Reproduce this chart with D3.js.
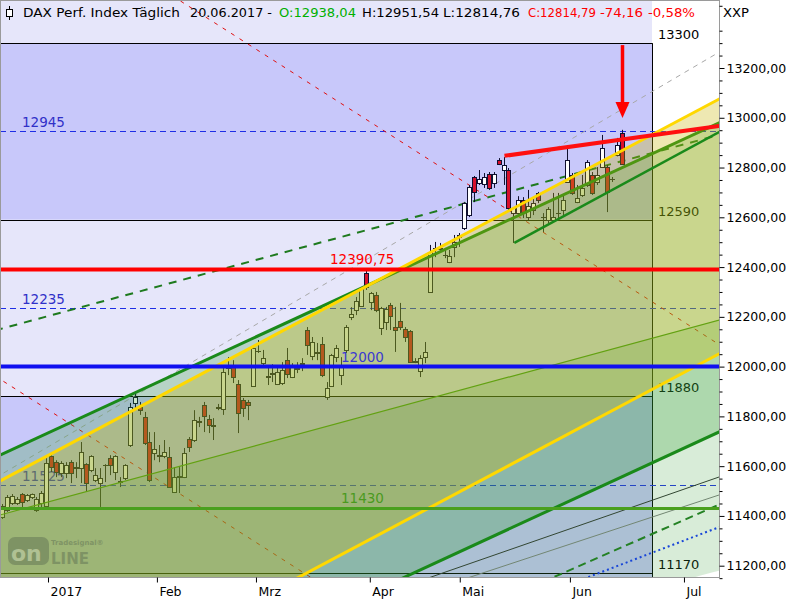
<!DOCTYPE html>
<html><head><meta charset="utf-8">
<script src="https://cdn.jsdelivr.net/npm/d3@7"></script>
<style>body{margin:0;background:#fff}svg{display:block}text{font-family:"DejaVu Sans",Verdana,sans-serif}</style>
</head><body><svg id="c" width="800" height="600"></svg>
<script>
// ---------------- DATA ----------------
const opens = [11396,11424,11452,11452,11488,11464,11476,11424,11452,11440,
11640,11616,11572,11572,11616,11596,11592,11608,11584,11544,
11532,11604,11632,11576,11536,11552,11685,11854,11838,11798,
11697,11653,11640,11640,11636,11496,11556,11556,11709,11705,
11777,11846,11790,11765,11838,11830,11994,12002,11930,11866,
11858,11922,12063,12014,11962,11970,11930,11934,12026,11958,
11994,12014,12147,12043,12059,12091,11878,11922,12038,11966,
12067,12199,12227,12244,12376,12260,12288,12155,12179,12248,
12159,12183,12151,12143,12022,11982,12038,12300,12477,12473,
12449,12420,12481,12521,12557,12609,12762,12738,12734,12774,
12738,12830,12790,12790,12617,12617,12669,12601,12629,12698,
12601,12589,12589,12617,12629,12742,12770,12661,12690,12730,
12770,12742,12802,12802,12754,12850,12938.04];
const highs = [11448,11484,11488,11476,11492,11488,11490,11476,11500,11632,
11644,11624,11620,11616,11624,11616,11697,11612,11644,11592,
11592,11608,11644,11644,11556,11608,11854,11898,11858,11818,
11737,11737,11685,11705,11677,11596,11596,11673,11717,11825,
11798,11858,11806,11793,11850,11998,12038,12026,11946,11874,
11866,12083,12107,12067,11998,12010,11998,12018,12075,12014,
12018,12034,12159,12119,12095,12119,11938,12051,12087,12038,
12167,12239,12280,12320,12390.75,12300,12300,12240,12240,12256,
12240,12256,12159,12147,12034,12046,12099,12489,12501,12497,
12477,12469,12529,12537,12661,12730,12766,12790,12778,12782,
12782,12838,12842,12798,12641,12685,12681,12710,12677,12702,
12617,12641,12698,12698,12690,12878,12778,12730,12770,12830,
12782,12802,12931,12810,12762,12919,12951.54];
const lows = [11388,11416,11444,11444,11424,11456,11468,11416,11436,11424,
11576,11556,11556,11552,11532,11552,11532,11500,11576,11536,
11436,11536,11564,11544,11516,11544,11677,11834,11806,11685,
11536,11624,11616,11632,11516,11492,11492,11552,11657,11697,
11757,11737,11733,11705,11825,11806,11966,11934,11733,11798,
11785,11918,12055,11998,11926,11938,11926,11926,11954,11954,
11974,11982,12047,12026,12026,11958,11866,11918,12018,11926,
12055,12187,12207,12240,12308,12227,12219,12127,12147,12147,
12059,12147,12099,12018,12014,11958,12014,12296,12440,12457,
12436,12416,12440,12481,12549,12601,12661,12730,12718,12710,
12718,12810,12730,12629,12497,12601,12597,12589,12609,12657,
12541,12577,12581,12597,12609,12738,12690,12657,12682,12722,
12690,12730,12798,12621,12742,12845,12814.76];
const closes = [11440,11476,11480,11468,11456,11484,11488,11468,11492,11612,
11596,11576,11612,11604,11572,11592,11656,11532,11640,11564,
11552,11604,11604,11640,11540,11604,11838,11878,11826,11693,
11544,11669,11644,11657,11516,11556,11560,11653,11677,11785,
11781,11802,11765,11761,11834,11978,12006,11958,11813,11834,
11846,12075,12063,12034,11958,11974,11978,11986,11970,11998,
11990,12010,12087,12099,12055,11966,11914,12047,12075,12006,
12159,12211,12264,12316,12320,12296,12227,12235,12231,12203,
12147,12159,12119,12018,12018,12034,12059,12460,12477,12477,
12448,12444,12501,12529,12657,12722,12702,12754,12762,12718,
12774,12814,12810,12637,12637,12669,12621,12645,12657,12669,
12601,12633,12601,12617,12669,12830,12698,12677,12718,12822,
12698,12770,12878,12702,12754,12889,12814.79];

const monthLabels = ["2017","Feb","Mrz","Apr","Mai","Jun","Jul"];
const monthPos = [9.15,31.3,51.45,74.6,92.9,115.3,138.5];
const priceTicks = [11200,11400,11600,11800,12000,12200,12400,12600,12800,13000,13200];

// horizontal levels
const blackLevels = [13300,12590,11880,11170];
const dashedLevels = [12945,12235,11525];
const redLevel = 12390.75;
const blueLevel = 12000;
const greenLevel = 11430;
const projectionEnd = 132; // index of vertical boundary

// trend lines: two anchors [index, price]
const greenUpper = [[0,11650],[140,12928]];
const greenLower = [[100,11321],[140,11686]];
const greenMid   = [[0,11407],[140,12157]];
const midFloor   = [[0,10400],[140,11150]];
const yellowUpper= [[0,11547],[140,13016]];
const yellowLower= [[80,11362],[140,11992]];
const redDash1   = [[40,13420],[140,12160]];
const redDash2   = [[0,11942],[60,11186]];
const greyDash   = [[0,11571],[140,13198]];
const greenDash  = [[0,12154],[140,12901]];
const redTrend   = [[102,12847],[126,12913]];
const greenShort = [[104,12497],[140,12882]];
const thinBlack  = [[87,11154],[145,11552]];
const thinGrey   = [[95,11154],[145,11480]];
const greenDash2 = [[112,11154],[145,11440]];
const blueDot    = [[119,11154],[145,11350]];
const arrow = [126, 13292, 12999];

const header = {
  title:"DAX Perf. Index Täglich", date:"20.06.2017 -", o:"O:12938,04", h:"H:12951,54",
  l:"L:12814,76", c:"C:12814,79", chg:"-74,16", pct:"-0,58%", sym:"XXP"
};

// ---------------- DRAW ----------------
const PR = 719, PB = 577;
const svg = d3.select("#c");
const xS = d3.scaleLinear().domain([0,126]).range([3,622.5]);
const yS = d3.scaleLinear().domain([11200,13200]).range([565.7,68]);
const iMin = xS.invert(-5), iMax = xS.invert(PR+5);
const xEnd = xS(projectionEnd);

svg.append("defs").append("clipPath").attr("id","plot")
  .append("rect").attr("x",0).attr("y",0).attr("width",PR).attr("height",PB);

const root = svg.append("g").attr("clip-path","url(#plot)");

const LIGHT="#e6e6fa", MED="#c8c8fa";
root.append("rect").attr("x",0).attr("y",0).attr("width",PR).attr("height",PB).attr("fill","#ffffff");
const zones = [[13700,13300,LIGHT],[13300,12590,MED],[12590,11880,LIGHT],[11880,10800,MED]];
root.selectAll("rect.zone").data(zones).enter().append("rect").attr("class","zone")
  .attr("x",0).attr("width",xEnd)
  .attr("y",d=>yS(d[0])).attr("height",d=>yS(d[1])-yS(d[0])).attr("fill",d=>d[2]);

function valAt(line,i){const [[i1,v1],[i2,v2]]=line;return v1+(i-i1)*(v2-v1)/(i2-i1);}
function drawLine(g,line,ext,stroke,width,dash){
  const a = ext==="both"?iMin:line[0][0];
  const b = ext==="seg"?line[1][0]:iMax;
  const l = g.append("line")
    .attr("x1",xS(a)).attr("y1",yS(valAt(line,a)))
    .attr("x2",xS(b)).attr("y2",yS(valAt(line,b)))
    .attr("stroke",stroke).attr("stroke-width",width);
  if(dash) l.attr("stroke-dasharray",dash);
  return l;
}
function channel(g,up,lo,fill,op){
  const n=60, pts=[];
  for(let k=0;k<=n;k++){const i=iMin+(iMax-iMin)*k/n;pts.push([xS(i),yS(valAt(up,i))]);}
  for(let k=n;k>=0;k--){const i=iMin+(iMax-iMin)*k/n;pts.push([xS(i),yS(valAt(lo,i))]);}
  g.append("path").attr("d",d3.line()(pts)+"Z").attr("fill",fill).attr("fill-opacity",op);
}

// horizontal black levels
const lv = root.append("g");
lv.selectAll("line.bl").data(blackLevels).enter().append("line")
  .attr("x1",0).attr("x2",xEnd).attr("y1",d=>Math.round(yS(d))+0.5).attr("y2",d=>Math.round(yS(d))+0.5)
  .attr("stroke","#000").attr("stroke-width",1);
lv.append("line").attr("x1",xEnd+0.5).attr("x2",xEnd+0.5).attr("y1",yS(13300)).attr("y2",PB).attr("stroke","#000");
lv.selectAll("text.bl").data(blackLevels).enter().append("text")
  .attr("x",xEnd+6).attr("y",d=>yS(d)-4).attr("font-size",13).attr("fill","#000").text(d=>d);

// dashed blue levels
lv.selectAll("line.db").data(dashedLevels).enter().append("line")
  .attr("x1",0).attr("x2",PR).attr("y1",d=>Math.round(yS(d))+0.5).attr("y2",d=>Math.round(yS(d))+0.5)
  .attr("stroke","#1e2ee6").attr("stroke-dasharray","6,4");
lv.selectAll("text.db").data(dashedLevels).enter().append("text")
  .attr("x",22).attr("y",d=>yS(d)-4).attr("font-size",13.5).attr("fill","#3030c8").text(d=>d);

// diagonal thin lines
drawLine(root,greyDash,"both","#a8a8a8",1,"5,5");
drawLine(root,greenDash,"both","#1e7a1e",2,"8,7");
drawLine(root,redDash1,"both","#e01010",1,"4,6");
drawLine(root,redDash2,"both","#e01010",1,"4,6");
drawLine(root,thinBlack,"both","#303030",1);
drawLine(root,thinGrey,"both","#808080",1);
drawLine(root,greenDash2,"both","#1e7a1e",2,"8,5");
drawLine(root,blueDot,"both","#1030ff",2,"2,3");

// candles
const cg = root.append("g");
opens.forEach((o,i)=>{
  const c = Math.round(xS(i));
  const h=highs[i], l=lows[i], cl=closes[i];
  const up = cl>=o;
  cg.append("line").attr("x1",c-0.5).attr("x2",c-0.5).attr("y1",yS(h)).attr("y2",yS(l)).attr("stroke","#101030");
  const top=Math.round(yS(Math.max(o,cl))), bot=Math.round(yS(Math.min(o,cl)));
  if(bot-top<1){
    cg.append("line").attr("x1",c-3).attr("x2",c+2).attr("y1",top+0.5).attr("y2",top+0.5).attr("stroke","#101030");
  } else {
    cg.append("rect").attr("x",c-2.5).attr("y",top+0.5).attr("width",4).attr("height",bot-top)
      .attr("fill",up?"#ffffff":"#d8102c").attr("stroke","#101030");
  }
});

// channel fills and their lines
const fg = root.append("g");
channel(fg,greenMid,midFloor,"#3aa03a",0.2);
drawLine(fg,greenMid,"both","#3c9a14",1.2);
channel(fg,greenUpper,greenLower,"#2a9a2a",0.25);
drawLine(fg,greenUpper,"both","#1a8a1a",3);
drawLine(fg,greenLower,"both","#1a8a1a",3);
channel(fg,yellowUpper,yellowLower,"#c8b400",0.3);
drawLine(fg,yellowUpper,"both","#ffd800",3);
drawLine(fg,yellowLower,"both","#ffd800",3);

// top-layer lines
const tg = root.append("g");
tg.append("line").attr("x1",0).attr("x2",PR).attr("y1",yS(greenLevel)).attr("y2",yS(greenLevel)).attr("stroke","#4aa01e").attr("stroke-width",3);
tg.append("text").attr("x",341).attr("y",yS(greenLevel)-5).attr("font-size",13.5).attr("fill","#4a9a1e").text(greenLevel);
tg.append("line").attr("x1",0).attr("x2",PR).attr("y1",yS(blueLevel)).attr("y2",yS(blueLevel)).attr("stroke","#1010f0").attr("stroke-width",4);
tg.append("text").attr("x",341).attr("y",yS(blueLevel)-5).attr("font-size",13.5).attr("fill","#3a3ad0").text(blueLevel);
tg.append("line").attr("x1",0).attr("x2",PR).attr("y1",yS(redLevel)).attr("y2",yS(redLevel)).attr("stroke","#ff0000").attr("stroke-width",4);
tg.append("text").attr("x",330).attr("y",yS(redLevel)-5).attr("font-size",13.5).attr("fill","#ff0000").text(String(redLevel).replace(".",","));
drawLine(tg,greenShort,"right","#1a8a1a",2.5);
drawLine(tg,redTrend,"right","#ff1010",4);
// arrow
const ax = xS(arrow[0]);
tg.append("line").attr("x1",ax).attr("x2",ax).attr("y1",yS(arrow[1])).attr("y2",yS(arrow[2])-14).attr("stroke","#ff0000").attr("stroke-width",3.5);
tg.append("path").attr("d",`M${ax-7},${yS(arrow[2])-16} L${ax+7},${yS(arrow[2])-16} L${ax},${yS(arrow[2])} Z`).attr("fill","#ff0000");

// logo watermark
const lg = svg.append("g").attr("opacity",0.45);
lg.append("rect").attr("x",8).attr("y",537).attr("width",41).attr("height",28).attr("rx",7).attr("fill","#5a6a50");
lg.append("text").attr("x",11).attr("y",561).attr("font-size",22).attr("font-weight","bold").attr("fill","#c8d0b8").text("on");
lg.append("text").attr("x",51).attr("y",564).attr("font-size",15).attr("font-weight","bold").attr("fill","#5a6a50").text("LINE");
lg.append("text").attr("x",51).attr("y",545).attr("font-size",7).attr("font-weight","bold").attr("fill","#5a6a50").text("Tradesignal®");

// frame
svg.append("rect").attr("x",0.5).attr("y",0.5).attr("width",PR).attr("height",PB).attr("fill","none").attr("stroke","#9a9a9a");

// axes
const fmt = d=>d.toFixed(2).replace(".",",");
const yAx = svg.append("g").attr("transform",`translate(${PR+0.5},0)`)
  .call(d3.axisRight(yS).tickValues(priceTicks).tickFormat(fmt).tickSize(5).tickPadding(2));
yAx.select(".domain").remove();
yAx.selectAll("text").attr("font-size",12.5).attr("fill","#000").attr("font-family","DejaVu Sans");
const minor = d3.range(11150,13451,50).filter(v=>v%200!==0);
const yMin = svg.append("g").attr("transform",`translate(${PR+0.5},0)`)
  .call(d3.axisRight(yS).tickValues(minor).tickFormat("").tickSize(3));
yMin.select(".domain").remove();

const xAx = svg.append("g").attr("transform",`translate(0,${PB+0.5})`)
  .call(d3.axisBottom(xS).tickValues(monthPos).tickFormat((d,i)=>monthLabels[i]).tickSize(5).tickPadding(5));
xAx.select(".domain").remove();
xAx.selectAll("text").attr("font-size",12.5).attr("fill","#000").attr("text-anchor","start").attr("x",2).attr("font-family","DejaVu Sans");

// header
const hg = svg.append("g").attr("font-size",13);
hg.append("line").attr("x1",9.5).attr("x2",9.5).attr("y1",6).attr("y2",20).attr("stroke","#000");
hg.append("rect").attr("x",6.5).attr("y",9.5).attr("width",6).attr("height",7).attr("fill","#fff").attr("stroke","#000");
const hs = [[header.title,23,157,"#000"],[header.date,190,82,"#000"],[header.o,279,77,"#00b000"],
  [header.h,362,77,"#000"],[header.l,443,77,"#000"],[header.c,528,68,"#ff0000"],
  [header.chg,600,43,"#ff0000"],[header.pct,648,47,"#ff0000"],[header.sym,723,26,"#000"]];
hs.forEach(s=>hg.append("text").attr("x",s[1]).attr("y",17).attr("fill",s[3])
  .attr("textLength",s[2]).attr("lengthAdjust","spacingAndGlyphs").text(s[0]));
</script></body></html>
